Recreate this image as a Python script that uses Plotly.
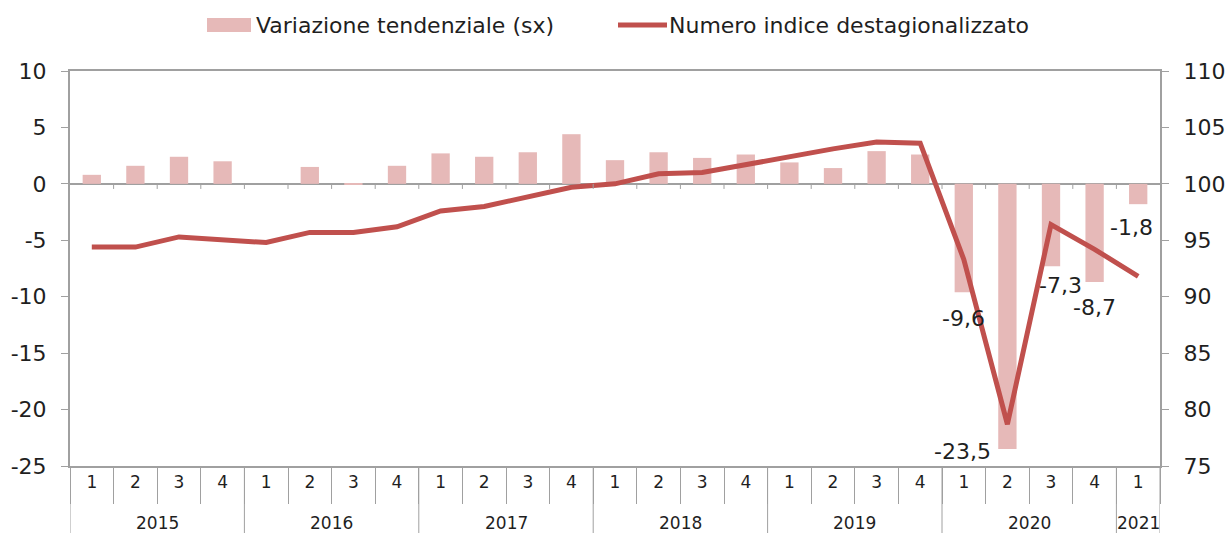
import plotly.graph_objects as go

years = ["2015"] * 4 + ["2016"] * 4 + ["2017"] * 4 + ["2018"] * 4 + ["2019"] * 4 + ["2020"] * 4 + ["2021"]
quarters = ["1", "2", "3", "4"] * 6 + ["1"]
variazione = [0.8, 1.6, 2.4, 2.0, 0.0, 1.5, -0.1, 1.6, 2.7, 2.4, 2.8, 4.4,
              2.1, 2.8, 2.3, 2.6, 1.9, 1.4, 2.9, 2.6, -9.6, -23.5, -7.3, -8.7, -1.8]
indice = [94.4, 94.4, 95.3, 95.0, 94.8, 95.7, 95.7, 96.2, 97.6, 98.0, 98.9, 99.7,
          100.0, 100.9, 101.0, 101.7, 102.5, 103.1, 103.7, 103.6, 93.3, 78.7, 96.4, 94.2, 91.8]
left_ticks = [-25, -20, -15, -10, -5, 0, 5, 10]
right_ticks = [75, 80, 85, 90, 95, 100, 105, 110]
labelled = [20, 21, 22, 23, 24]
label_shifts = {20: (0, -26), 21: (-45, -2), 22: (9, -19), 23: (0, -25), 24: (-7, -23)}
names = ["Variazione tendenziale (sx)", "Numero indice destagionalizzato"]

BAR = "#E6B9B8"
LINE = "#C0504D"
AX = "#A0A0A0"
TXT = "#1F1F1F"
FONT = "DejaVu Sans"

cats = [f"{y}-{q}" for y, q in zip(years, quarters)]
n = len(cats)

# plot area geometry in px (for converting pixel offsets to paper units)
W, H = 1226, 533
ML, MR, MT, MB = 70, 66, 71, 67
PW, PH = W - ML - MR, H - MT - MB


def px_x(px):
    return (px - ML) / PW


def px_y(py):
    return (H - MB - py) / PH


fig = go.Figure()
fig.add_trace(go.Bar(x=cats, y=variazione, name=names[0], showlegend=False,
                     marker=dict(color=BAR, line=dict(width=0)), yaxis="y"))
fig.add_trace(go.Scatter(x=cats, y=indice, name=names[1], showlegend=False,
                         mode="lines", line=dict(color=LINE, width=5), yaxis="y2"))

# data labels
for i in labelled:
    dx, dy = label_shifts[i]
    fig.add_annotation(x=cats[i], y=variazione[i], xref="x", yref="y",
                       text=f"{variazione[i]:.1f}".replace(".", ","),
                       showarrow=False, xshift=dx, yshift=dy, yanchor="middle",
                       font=dict(family=FONT, size=22, color=TXT))

shapes = []
# small ticks on the zero line at category boundaries
for k in range(1, n):
    shapes.append(dict(type="line", xref="x", yref="y", x0=k - 0.5, x1=k - 0.5,
                       y0=0, y1=-0.45, line=dict(color=AX, width=1)))

# year dividers and labels
groups = []
for i, y in enumerate(years):
    if not groups or groups[-1][0] != y:
        groups.append([y, i, i])
    else:
        groups[-1][2] = i
bounds = [g[1] - 0.5 for g in groups] + [n - 0.5]
for b in bounds:
    shapes.append(dict(type="line", xref="x", yref="paper", x0=b, x1=b,
                       y0=0, y1=px_y(H), line=dict(color=AX, width=1)))
for y, a, b in groups:
    fig.add_annotation(x=(a + b) / 2, y=px_y(523), xref="x", yref="paper",
                       text=y, showarrow=False, yanchor="middle",
                       font=dict(family=FONT, size=17, color=TXT))

# custom legend
shapes.append(dict(type="rect", xref="paper", yref="paper", x0=px_x(207), x1=px_x(251),
                   y0=px_y(32), y1=px_y(18), fillcolor=BAR, line=dict(width=0)))
shapes.append(dict(type="line", xref="paper", yref="paper", x0=px_x(618), x1=px_x(667),
                   y0=px_y(25), y1=px_y(25), line=dict(color=LINE, width=5)))
fig.add_annotation(x=px_x(254), y=px_y(25), xref="paper", yref="paper", text=names[0],
                   showarrow=False, xanchor="left", yanchor="middle",
                   font=dict(family=FONT, size=22, color=TXT))
fig.add_annotation(x=px_x(667), y=px_y(25), xref="paper", yref="paper", text=names[1],
                   showarrow=False, xanchor="left", yanchor="middle",
                   font=dict(family=FONT, size=22, color=TXT))

fig.update_layout(
    width=W, height=H,
    margin=dict(l=ML, r=MR, t=MT, b=MB, autoexpand=False),
    paper_bgcolor="white", plot_bgcolor="white",
    bargap=0.58,
    font=dict(family=FONT, size=18, color=TXT),
    showlegend=False,
    shapes=shapes,
    xaxis=dict(type="category", automargin=False, range=[-0.5, n - 0.5],
               showline=True, linecolor=AX, linewidth=2, mirror=True,
               ticks="outside", tickson="boundaries", ticklen=36, tickcolor=AX, tickwidth=1,
               tickvals=cats, ticktext=quarters, ticklabelstandoff=0,
               tickfont=dict(family=FONT, size=17, color=TXT), showgrid=False),
    yaxis=dict(range=[-25, 10], automargin=False, tickvals=left_ticks,
               ticktext=[str(v) for v in left_ticks], showgrid=False, zeroline=True,
               zerolinecolor=AX, zerolinewidth=2, showline=True, linecolor=AX, linewidth=2,
               ticks="outside", ticklen=7, tickcolor=AX, ticklabelstandoff=10,
               tickfont=dict(family=FONT, size=22, color=TXT)),
    yaxis2=dict(range=[75, 110], automargin=False, tickvals=right_ticks,
                ticktext=[str(v) for v in right_ticks], overlaying="y", side="right",
                showgrid=False, zeroline=False, showline=True, linecolor=AX, linewidth=2,
                ticks="outside", ticklen=7, tickcolor=AX, ticklabelstandoff=10,
                tickfont=dict(family=FONT, size=22, color=TXT)),
)

fig.write_html("out.html", config={"displayModeBar": False},
               post_script="document.body.style.margin='0';")
